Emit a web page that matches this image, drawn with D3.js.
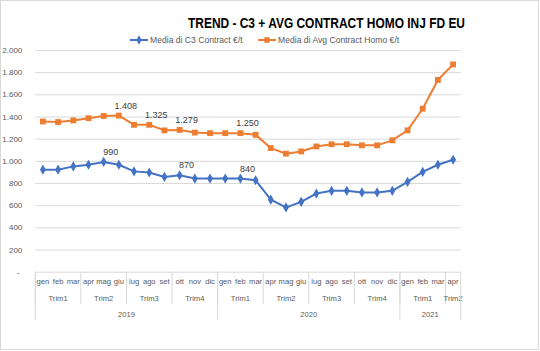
<!DOCTYPE html>
<html><head><meta charset="utf-8">
<script src="https://cdn.jsdelivr.net/npm/d3@7/dist/d3.min.js"></script>
<style>
body{margin:0;background:#fff;}
svg{display:block;font-family:"Liberation Sans","DejaVu Sans",sans-serif;}
</style></head>
<body><svg id="c" width="540" height="351"></svg>
<script>
const months = ["gen","feb","mar","apr","mag","giu","lug","ago","set","ott","nov","dic",
                "gen","feb","mar","apr","mag","giu","lug","ago","set","ott","nov","dic",
                "gen","feb","mar","apr"];
const quarters = ["Trim1","Trim2","Trim3","Trim4","Trim1","Trim2","Trim3","Trim4","Trim1","Trim2"];
const quarterSizes = [3,3,3,3,3,3,3,3,3,1];
const years = ["2019","2020","2021"];
const yearSizes = [12,12,4];
const c3 = [920,920,950,965,990,965,905,895,855,870,840,840,840,840,825,650,580,630,705,730,730,715,715,730,810,900,965,1010];
const homo = [1355,1350,1365,1385,1405,1408,1325,1325,1275,1279,1255,1250,1250,1250,1235,1115,1065,1085,1130,1150,1150,1140,1140,1185,1275,1470,1730,1870];
const yTicks = [0,200,400,600,800,1000,1200,1400,1600,1800,2000];
const c3Labels = [4,9,13];
const homoLabels = [5,7,9,13];
const seriesNames = ["Media di C3 Contract €/t","Media di Avg Contract Homo  €/t"];
const title = "TREND - C3 + AVG CONTRACT HOMO  INJ FD EU";

const svg = d3.select("#c");
const L = 35.3, R = 460.7, T = 50, B = 271.7;
const x = d3.scaleBand().domain(d3.range(months.length)).range([L,R]);
const y = d3.scaleLinear().domain([0,2000]).range([B,T]);
const fmt = v => v===0 ? "-" : d3.format(",")(v).replace(/,/g,".");

// frame
svg.append("rect").attr("x",0.5).attr("y",0.5).attr("width",538).attr("height",349)
  .attr("fill","#fff").attr("stroke","#d9d9d9");

// title
svg.append("text").attr("x",188).attr("y",28)
  .attr("font-weight","bold").attr("font-size",15).attr("fill","#000")
  .attr("textLength",277).attr("lengthAdjust","spacingAndGlyphs").text(title);

// gridlines
const yAxis = d3.axisLeft(y).tickValues(yTicks).tickSize(-(R-L)).tickFormat(fmt);
const gy = svg.append("g").attr("transform",`translate(${L},0)`).call(yAxis);
gy.select(".domain").remove();
gy.selectAll(".tick line").attr("stroke","#d9d9d9").attr("stroke-width",1);
gy.selectAll(".tick text").attr("x",-13).attr("fill","#595959").attr("font-size",8);
gy.selectAll(".tick").filter(d=>d===0).select("line").remove();
gy.selectAll(".tick").filter(d=>d===0).select("text").attr("x",-16);

// category axis
const xAxis = d3.axisBottom(x).tickSize(0).tickFormat(i=>months[i]);
const gx = svg.append("g").attr("transform",`translate(0,${B})`).call(xAxis);
gx.select(".domain").attr("stroke","#d9d9d9");
gx.selectAll(".tick text").attr("y",7).attr("fill","#595959").attr("font-size",7.6);

// quarter separators & labels
let idx = 0;
const step = x.step();
quarterSizes.forEach((n,k)=>{
  const x0 = L + idx*step, x1 = L + (idx+n)*step;
  svg.append("line").attr("x1",x0).attr("x2",x0).attr("y1",B).attr("y2",304).attr("stroke","#d9d9d9");
  svg.append("text").attr("x",(x0+x1)/2).attr("y",301).attr("text-anchor","middle")
    .attr("font-size",7.6).attr("fill","#595959").text(quarters[k]);
  idx += n;
});
idx = 0;
yearSizes.forEach((n,k)=>{
  const x0 = L + idx*step, x1 = L + (idx+n)*step;
  svg.append("line").attr("x1",x0).attr("x2",x0).attr("y1",B).attr("y2",320).attr("stroke","#d9d9d9");
  if (k===yearSizes.length-1) svg.append("line").attr("x1",x1).attr("x2",x1).attr("y1",B).attr("y2",320).attr("stroke","#d9d9d9");
  svg.append("text").attr("x",(x0+x1)/2).attr("y",317).attr("text-anchor","middle")
    .attr("font-size",7.6).attr("fill","#595959").text(years[k]);
  idx += n;
});

const cx = i => x(i) + x.bandwidth()/2;
const line = d3.line().x((d,i)=>cx(i)).y(d=>y(d));
const colors = ["#4472C4","#ED7D31"];
const square = d3.symbol().type(d3.symbolSquare).size(34);

function drawSeries(data, color, sym, labels){
  svg.append("path").datum(data).attr("d",line).attr("fill","none").attr("stroke",color).attr("stroke-width",2);
  svg.append("g").selectAll("path").data(data).join("path")
    .attr("d",sym).attr("fill",color)
    .attr("transform",(d,i)=>`translate(${cx(i)},${y(d)})`);
  svg.append("g").selectAll("text").data(labels).join("text")
    .attr("x",i=>cx(i)+7).attr("y",i=>y(data[i])-7).attr("text-anchor","middle")
    .attr("font-size",9).attr("fill","#404040").text(i=>fmt(data[i]));
}
drawSeries(c3, colors[0], d3.symbol().type(d3.symbolDiamond).size(30), c3Labels);
drawSeries(homo, colors[1], square, homoLabels);

// legend
const leg = [{x:130, sym:d3.symbol().type(d3.symbolDiamond).size(26)},{x:258, sym:d3.symbol().type(d3.symbolSquare).size(30)}];
leg.forEach((l,k)=>{
  const g = svg.append("g").attr("transform",`translate(${l.x},40)`);
  g.append("line").attr("x1",0).attr("x2",18).attr("stroke",colors[k]).attr("stroke-width",2);
  g.append("path").attr("d",l.sym).attr("fill",colors[k]).attr("transform","translate(9,0)");
  g.append("text").attr("x",20).attr("y",3).attr("font-size",8.6).attr("fill","#595959").text(seriesNames[k]);
});
</script></body></html>
